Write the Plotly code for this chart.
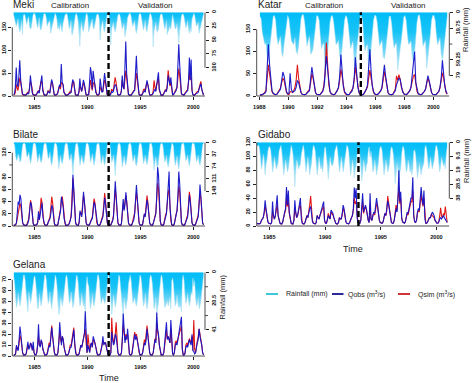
import plotly.graph_objects as go

# ------------------------------------------------------------------ data
# monthly values (peak daily values per month)
# ---- Meki (Jan 1983 - Dec 2000)
meki_start = (1983, 1)
meki_rain = [
    4, 10, 18, 25, 20, 12, 28, 35, 30, 15, 40, 6,
    3, 6, 15, 22, 12, 8, 25, 30, 28, 10, 5, 2,
    2, 8, 20, 28, 22, 10, 30, 32, 25, 8, 4, 2,
    3, 10, 25, 20, 18, 15, 38, 30, 22, 12, 4, 2,
    5, 12, 30, 25, 32, 20, 28, 35, 20, 10, 6, 3,
    2, 6, 18, 30, 25, 15, 41, 38, 28, 12, 5, 2,
    6, 15, 35, 61, 30, 18, 30, 35, 25, 10, 4, 2,
    8, 35, 30, 25, 18, 12, 28, 30, 22, 10, 5, 3,
    4, 12, 50, 28, 22, 15, 32, 35, 25, 8, 4, 2,
    5, 20, 59, 30, 25, 18, 30, 35, 28, 12, 6, 3,
    3, 10, 22, 30, 25, 20, 44, 38, 28, 10, 5, 2,
    2, 6, 18, 25, 20, 15, 30, 38, 30, 12, 4, 2,
    3, 12, 28, 32, 25, 14, 30, 35, 25, 10, 4, 2,
    6, 15, 62, 35, 28, 18, 32, 36, 30, 12, 5, 3,
    3, 10, 22, 30, 25, 15, 40, 35, 28, 25, 30, 8,
    4, 12, 25, 30, 28, 20, 38, 56, 35, 15, 6, 3,
    3, 8, 22, 28, 24, 15, 30, 38, 28, 35, 12, 4,
    2, 5, 18, 25, 22, 18, 38, 30, 26, 15, 6, 3,
]
meki_qobs = [
    3, 5, 20, 62, 25, 20, 45, 78, 35, 12, 5, 3,
    2, 2, 2, 4, 6, 5, 15, 45, 25, 8, 3, 2,
    2, 2, 3, 8, 10, 6, 18, 38, 45, 12, 4, 2,
    2, 2, 4, 10, 8, 6, 20, 36, 30, 10, 3, 2,
    2, 3, 6, 15, 25, 20, 70, 30, 25, 8, 3, 2,
    2, 2, 3, 5, 6, 8, 25, 36, 30, 10, 3, 2,
    2, 2, 10, 38, 20, 10, 20, 35, 28, 8, 3, 2,
    2, 3, 30, 63, 50, 15, 55, 30, 25, 8, 3, 2,
    3, 5, 38, 12, 8, 10, 25, 50, 35, 10, 3, 2,
    2, 2, 4, 10, 8, 10, 20, 25, 22, 8, 3, 2,
    2, 3, 10, 45, 20, 15, 60, 119, 50, 15, 4, 2,
    2, 2, 4, 8, 10, 12, 40, 88, 45, 12, 4, 2,
    2, 2, 5, 10, 12, 8, 20, 34, 25, 8, 3, 2,
    2, 3, 6, 12, 15, 10, 25, 40, 52, 15, 4, 2,
    2, 2, 5, 10, 12, 10, 20, 45, 30, 25, 41, 8,
    3, 3, 6, 10, 12, 20, 60, 113, 70, 20, 5, 3,
    2, 2, 5, 8, 10, 12, 30, 84, 35, 80, 12, 3,
    2, 2, 4, 6, 8, 8, 15, 20, 27, 15, 4, 2,
]
meki_qsim = [
    2, 3, 8, 25, 18, 12, 25, 40, 30, 12, 4, 2,
    2, 2, 3, 6, 8, 6, 15, 30, 28, 10, 3, 2,
    2, 2, 4, 10, 12, 8, 18, 32, 30, 12, 4, 2,
    2, 2, 5, 12, 10, 8, 22, 30, 28, 10, 3, 2,
    2, 3, 8, 18, 22, 15, 30, 28, 25, 8, 3, 2,
    2, 2, 4, 8, 10, 8, 20, 30, 32, 10, 3, 2,
    2, 2, 8, 22, 18, 10, 18, 28, 25, 8, 3, 2,
    2, 3, 15, 35, 25, 12, 25, 30, 25, 8, 3, 2,
    2, 4, 20, 15, 10, 10, 22, 35, 28, 10, 3, 2,
    2, 2, 6, 15, 12, 12, 28, 41, 30, 10, 3, 2,
    2, 3, 12, 35, 22, 15, 35, 55, 40, 12, 4, 2,
    2, 2, 5, 10, 12, 12, 30, 50, 35, 12, 4, 2,
    2, 2, 6, 14, 15, 10, 22, 30, 25, 8, 3, 2,
    2, 3, 10, 34, 20, 12, 25, 35, 38, 12, 4, 2,
    2, 2, 6, 12, 14, 10, 25, 56, 35, 22, 30, 8,
    3, 3, 8, 14, 15, 18, 40, 60, 45, 18, 5, 3,
    2, 2, 6, 10, 12, 12, 28, 50, 35, 40, 12, 3,
    2, 2, 5, 8, 10, 10, 20, 25, 32, 15, 4, 2,
]

# ---- Katar (Jan 1988 - Dec 2000)
katar_start = (1988, 1)
katar_rain = [
    5, 8, 25, 35, 40, 38, 55, 60, 45, 30, 12, 5,
    4, 10, 30, 40, 35, 30, 50, 55, 40, 28, 10, 4,
    8, 25, 35, 38, 40, 32, 48, 52, 42, 25, 8, 3,
    3, 12, 28, 42, 35, 30, 52, 50, 45, 30, 10, 4,
    5, 10, 30, 45, 40, 38, 88, 60, 50, 28, 12, 5,
    4, 12, 32, 40, 38, 35, 55, 58, 45, 25, 10, 4,
    6, 15, 30, 45, 40, 36, 60, 75, 48, 30, 12, 5,
    5, 10, 35, 48, 42, 40, 70, 60, 45, 28, 10, 4,
    4, 12, 30, 42, 38, 35, 55, 58, 48, 30, 12, 5,
    5, 14, 32, 44, 40, 38, 72, 55, 46, 35, 15, 6,
    4, 10, 28, 40, 38, 36, 55, 62, 50, 30, 12, 4,
    3, 12, 30, 42, 38, 35, 70, 58, 45, 28, 10, 4,
    4, 10, 28, 40, 36, 32, 52, 60, 48, 30, 12, 5,
]
katar_qobs = [
    2, 2, 3, 5, 6, 10, 60, 116, 70, 30, 12, 6,
    4, 3, 4, 8, 10, 15, 35, 54, 45, 20, 10, 5,
    5, 51, 15, 8, 10, 12, 20, 35, 30, 15, 8, 4,
    3, 3, 4, 6, 8, 12, 40, 65, 45, 20, 8, 4,
    3, 3, 4, 6, 10, 20, 50, 90, 60, 25, 10, 5,
    4, 3, 4, 8, 12, 20, 45, 93, 55, 22, 10, 5,
    3, 3, 4, 8, 10, 18, 40, 87, 50, 20, 8, 4,
    3, 3, 5, 10, 15, 25, 60, 105, 55, 22, 10, 5,
    4, 3, 5, 8, 12, 20, 40, 70, 45, 20, 8, 4,
    3, 3, 4, 8, 12, 25, 35, 40, 38, 20, 10, 5,
    4, 3, 5, 8, 12, 20, 45, 70, 100, 30, 12, 5,
    4, 3, 4, 6, 10, 15, 30, 46, 35, 18, 8, 4,
    3, 3, 4, 6, 10, 20, 40, 80, 50, 22, 10, 5,
]
katar_qsim = [
    2, 2, 3, 5, 8, 12, 40, 70, 50, 25, 10, 5,
    3, 3, 4, 10, 12, 18, 30, 40, 35, 18, 8, 4,
    3, 10, 8, 8, 12, 20, 35, 70, 40, 18, 8, 4,
    3, 3, 4, 8, 10, 15, 30, 50, 40, 18, 8, 4,
    3, 3, 4, 8, 12, 25, 55, 120, 60, 25, 10, 5,
    4, 3, 4, 8, 12, 18, 35, 60, 45, 20, 8, 4,
    3, 3, 4, 8, 12, 18, 35, 65, 45, 20, 8, 4,
    3, 3, 5, 10, 15, 20, 40, 58, 40, 18, 8, 4,
    3, 3, 5, 8, 12, 18, 35, 55, 40, 18, 8, 4,
    3, 3, 4, 10, 15, 45, 35, 48, 38, 20, 10, 5,
    4, 3, 5, 8, 12, 20, 35, 45, 48, 25, 10, 5,
    3, 3, 4, 6, 10, 15, 28, 40, 32, 16, 8, 4,
    3, 3, 4, 6, 10, 18, 35, 52, 40, 20, 8, 4,
]

# ---- Bilate (Jan 1983 - Dec 2000)
bilate_start = (1983, 1)
bilate_rain = [
    3, 8, 40, 55, 50, 35, 45, 60, 55, 30, 8, 3,
    2, 6, 30, 45, 40, 30, 50, 65, 50, 25, 6, 2,
    3, 10, 45, 60, 50, 35, 55, 62, 52, 28, 8, 3,
    2, 8, 35, 50, 45, 30, 60, 70, 55, 25, 6, 2,
    4, 12, 55, 80, 60, 40, 60, 65, 50, 25, 8, 3,
    2, 8, 40, 55, 50, 35, 60, 99, 60, 30, 8, 3,
    3, 15, 60, 70, 55, 40, 55, 65, 55, 25, 6, 2,
    4, 12, 45, 60, 50, 35, 55, 70, 55, 28, 8, 3,
    3, 10, 50, 65, 55, 40, 60, 70, 55, 25, 6, 2,
    2, 8, 45, 60, 52, 38, 65, 100, 60, 30, 8, 3,
    3, 12, 55, 75, 60, 42, 60, 70, 55, 28, 8, 3,
    2, 10, 40, 58, 50, 38, 65, 72, 58, 30, 8, 2,
    3, 12, 50, 65, 55, 40, 58, 68, 55, 28, 6, 2,
    4, 15, 60, 85, 60, 45, 70, 80, 60, 30, 8, 3,
    3, 10, 45, 60, 55, 40, 65, 75, 60, 40, 15, 4,
    4, 12, 50, 70, 58, 42, 68, 82, 60, 30, 8, 3,
    2, 8, 40, 55, 50, 38, 60, 72, 55, 28, 6, 2,
    3, 10, 45, 60, 52, 40, 62, 70, 56, 30, 8, 3,
]
bilate_qobs = [
    1, 1, 2, 5, 20, 40, 35, 51, 45, 20, 6, 2,
    1, 1, 1, 2, 5, 10, 25, 39, 35, 15, 4, 1,
    1, 1, 2, 5, 24, 10, 20, 35, 38, 15, 5, 2,
    1, 1, 2, 6, 10, 12, 20, 34, 30, 12, 4, 1,
    1, 1, 3, 10, 20, 25, 48, 40, 30, 12, 4, 1,
    1, 1, 2, 4, 8, 15, 35, 84, 60, 20, 6, 2,
    1, 1, 5, 25, 20, 15, 30, 56, 40, 15, 5, 2,
    1, 1, 3, 8, 10, 12, 25, 39, 35, 20, 6, 2,
    1, 1, 3, 8, 10, 15, 30, 46, 35, 15, 5, 2,
    1, 1, 2, 5, 8, 15, 40, 73, 50, 18, 5, 2,
    1, 1, 4, 20, 44, 25, 35, 55, 40, 15, 5, 2,
    1, 1, 3, 8, 10, 20, 40, 67, 45, 18, 5, 2,
    1, 1, 3, 10, 20, 15, 30, 43, 35, 15, 5, 2,
    1, 1, 4, 10, 15, 20, 50, 96, 84, 30, 8, 2,
    1, 1, 3, 10, 15, 20, 40, 60, 89, 30, 8, 2,
    1, 1, 4, 12, 18, 25, 50, 89, 70, 25, 6, 2,
    1, 1, 3, 8, 12, 15, 30, 51, 40, 15, 5, 2,
    1, 1, 3, 8, 12, 15, 35, 68, 50, 18, 5, 2,
]
bilate_qsim = [
    1, 1, 2, 5, 15, 25, 30, 37, 32, 15, 5, 2,
    1, 1, 1, 3, 8, 12, 28, 42, 35, 15, 4, 1,
    1, 1, 2, 6, 15, 12, 25, 46, 38, 15, 5, 2,
    1, 1, 2, 8, 12, 15, 30, 48, 38, 15, 4, 1,
    1, 1, 3, 12, 22, 28, 45, 48, 35, 14, 4, 1,
    1, 1, 2, 6, 10, 18, 45, 78, 55, 20, 6, 2,
    1, 1, 5, 20, 22, 18, 35, 50, 40, 15, 5, 2,
    1, 1, 3, 8, 12, 15, 30, 45, 38, 18, 6, 2,
    1, 1, 3, 10, 12, 18, 35, 54, 40, 15, 5, 2,
    1, 1, 2, 6, 10, 18, 40, 60, 45, 18, 5, 2,
    1, 1, 4, 18, 35, 28, 38, 50, 40, 15, 5, 2,
    1, 1, 3, 10, 12, 22, 40, 55, 42, 18, 5, 2,
    1, 1, 3, 12, 20, 18, 35, 50, 38, 15, 5, 2,
    1, 1, 4, 12, 18, 22, 45, 70, 60, 25, 8, 2,
    1, 1, 3, 12, 18, 22, 40, 55, 60, 25, 8, 2,
    1, 1, 4, 14, 20, 25, 45, 65, 55, 22, 6, 2,
    1, 1, 3, 10, 15, 18, 35, 56, 45, 15, 5, 2,
    1, 1, 3, 10, 15, 18, 38, 54, 45, 18, 5, 2,
]

# ---- Gidabo (Nov 1983 - Dec 2000)
gidabo_start = (1983, 11)
gidabo_rain = [
    3, 2,
    2, 4, 10, 18, 15, 8, 12, 22, 15, 12, 6, 3,
    3, 5, 12, 20, 16, 10, 14, 18, 16, 14, 6, 3,
    2, 6, 14, 22, 18, 12, 15, 20, 18, 12, 5, 2,
    4, 8, 18, 30, 20, 12, 14, 18, 16, 15, 8, 3,
    2, 5, 12, 20, 16, 10, 15, 22, 18, 14, 6, 2,
    3, 6, 14, 22, 18, 10, 14, 18, 16, 20, 12, 4,
    3, 8, 16, 25, 18, 10, 14, 16, 15, 12, 6, 3,
    2, 5, 12, 20, 16, 10, 14, 20, 16, 12, 5, 2,
    3, 6, 14, 22, 18, 12, 16, 24, 18, 16, 8, 3,
    4, 8, 16, 26, 22, 12, 15, 20, 16, 14, 6, 3,
    10, 6, 12, 20, 18, 12, 16, 22, 18, 14, 6, 3,
    3, 6, 14, 22, 18, 12, 15, 20, 18, 14, 6, 3,
    4, 8, 16, 28, 22, 14, 18, 26, 20, 18, 8, 3,
    3, 6, 14, 20, 18, 12, 15, 20, 18, 22, 18, 6,
    5, 8, 16, 24, 20, 14, 18, 22, 18, 16, 14, 4,
    2, 5, 12, 18, 16, 10, 14, 18, 15, 12, 6, 2,
    3, 6, 14, 20, 16, 10, 13, 16, 14, 18, 8, 3,
]
gidabo_qobs = [
    4, 3,
    3, 3, 4, 8, 10, 12, 20, 37, 25, 12, 6, 4,
    3, 3, 5, 35, 15, 10, 15, 30, 44, 15, 6, 4,
    3, 3, 6, 15, 20, 25, 56, 30, 51, 20, 8, 4,
    3, 3, 8, 37, 20, 12, 15, 25, 30, 40, 10, 4,
    3, 3, 5, 12, 15, 12, 20, 25, 28, 15, 6, 4,
    3, 3, 5, 15, 12, 10, 15, 20, 25, 28, 35, 8,
    4, 4, 8, 15, 12, 10, 23, 20, 18, 12, 6, 4,
    3, 3, 5, 12, 10, 10, 18, 30, 25, 12, 6, 4,
    3, 3, 5, 10, 12, 15, 25, 55, 40, 54, 12, 5,
    4, 4, 8, 25, 47, 20, 25, 30, 25, 15, 8, 5,
    47, 10, 8, 15, 20, 18, 30, 40, 30, 15, 8, 5,
    4, 4, 6, 15, 18, 15, 25, 36, 30, 20, 8, 5,
    4, 4, 8, 20, 25, 20, 40, 80, 35, 49, 12, 6,
    5, 4, 6, 15, 20, 18, 25, 35, 40, 40, 70, 15,
    6, 5, 8, 20, 25, 22, 35, 56, 40, 30, 51, 10,
    4, 4, 6, 10, 12, 12, 15, 20, 18, 15, 8, 5,
    4, 4, 6, 10, 12, 10, 12, 15, 12, 10, 8, 5,
]
gidabo_qsim = [
    3, 3,
    3, 3, 4, 8, 10, 12, 18, 28, 22, 12, 6, 4,
    3, 3, 5, 20, 15, 10, 15, 25, 30, 15, 6, 4,
    3, 3, 6, 15, 18, 22, 40, 28, 35, 18, 8, 4,
    3, 3, 8, 25, 18, 12, 15, 22, 28, 30, 10, 4,
    3, 3, 5, 12, 15, 12, 20, 30, 43, 20, 8, 4,
    3, 3, 5, 15, 12, 10, 15, 20, 22, 25, 28, 8,
    4, 4, 8, 18, 14, 10, 20, 18, 16, 12, 6, 4,
    3, 3, 5, 12, 10, 10, 16, 25, 22, 12, 6, 4,
    3, 3, 5, 10, 12, 15, 22, 40, 32, 35, 12, 5,
    4, 4, 8, 22, 35, 18, 22, 28, 24, 15, 8, 5,
    30, 10, 8, 15, 18, 16, 25, 32, 28, 15, 8, 5,
    4, 4, 6, 15, 18, 15, 22, 43, 32, 20, 8, 5,
    4, 4, 8, 22, 30, 22, 35, 55, 32, 40, 12, 6,
    5, 4, 6, 15, 18, 16, 22, 30, 35, 35, 50, 15,
    6, 5, 8, 18, 22, 20, 30, 45, 35, 28, 40, 10,
    4, 4, 6, 10, 12, 12, 17, 15, 14, 12, 8, 5,
    4, 4, 6, 15, 26, 14, 12, 18, 15, 28, 10, 5,
]

# ---- Gelana (Jan 1983 - Dec 2000)
gelana_start = (1983, 1)
gelana_rain = [
    3, 8, 18, 25, 22, 15, 20, 24, 20, 12, 5, 2,
    2, 6, 15, 22, 28, 14, 18, 22, 18, 10, 8, 3,
    3, 8, 18, 26, 25, 15, 20, 24, 20, 12, 5, 2,
    2, 6, 16, 22, 20, 14, 22, 26, 20, 12, 5, 2,
    4, 10, 22, 30, 28, 18, 20, 24, 20, 14, 6, 3,
    2, 6, 15, 22, 20, 14, 20, 25, 22, 14, 5, 2,
    3, 8, 18, 24, 22, 15, 20, 24, 22, 28, 10, 3,
    8, 10, 20, 26, 22, 15, 22, 24, 20, 12, 5, 2,
    2, 6, 16, 22, 20, 18, 20, 22, 20, 12, 5, 2,
    3, 8, 20, 30, 24, 16, 20, 25, 22, 14, 6, 2,
    3, 10, 22, 28, 32, 18, 22, 26, 22, 18, 8, 3,
    2, 6, 16, 22, 20, 18, 22, 24, 20, 12, 5, 2,
    3, 8, 18, 24, 22, 15, 22, 26, 22, 12, 5, 2,
    3, 8, 20, 26, 24, 18, 30, 26, 22, 14, 6, 2,
    3, 8, 18, 25, 24, 22, 20, 24, 20, 18, 26, 6,
    4, 8, 18, 24, 22, 16, 22, 25, 24, 24, 28, 5,
    2, 6, 16, 22, 20, 15, 20, 24, 20, 14, 16, 4,
    10, 6, 18, 24, 22, 18, 26, 24, 20, 14, 5, 2,
]
gelana_qobs = [
    1, 1, 2, 10, 6, 5, 15, 27, 20, 8, 3, 1,
    1, 1, 2, 6, 13, 6, 8, 12, 10, 5, 13, 3,
    1, 1, 3, 10, 29, 10, 8, 15, 12, 6, 3, 1,
    1, 1, 2, 8, 10, 8, 15, 26, 18, 8, 3, 1,
    1, 1, 3, 12, 31, 15, 10, 18, 15, 8, 3, 1,
    1, 1, 2, 6, 8, 8, 12, 18, 24, 10, 3, 1,
    1, 1, 2, 8, 10, 8, 12, 15, 20, 41, 12, 3,
    10, 5, 3, 10, 12, 8, 18, 15, 12, 8, 3, 1,
    1, 1, 2, 6, 10, 18, 10, 12, 12, 8, 3, 1,
    1, 1, 3, 22, 15, 10, 12, 20, 18, 10, 3, 1,
    1, 1, 3, 15, 39, 20, 12, 18, 15, 25, 8, 2,
    1, 1, 2, 8, 12, 20, 15, 18, 14, 8, 3, 1,
    1, 1, 3, 10, 12, 10, 15, 25, 18, 8, 3, 1,
    1, 1, 3, 10, 15, 12, 40, 25, 20, 10, 3, 1,
    1, 1, 3, 12, 15, 31, 15, 18, 15, 12, 33, 8,
    2, 1, 3, 10, 12, 10, 15, 20, 25, 30, 36, 6,
    1, 1, 2, 8, 10, 8, 12, 15, 12, 10, 20, 5,
    4, 2, 3, 10, 12, 15, 25, 18, 15, 10, 3, 1,
]
gelana_qsim = [
    1, 1, 2, 8, 8, 6, 12, 19, 16, 8, 3, 1,
    1, 1, 2, 6, 10, 8, 8, 12, 10, 6, 8, 3,
    1, 1, 3, 10, 18, 10, 10, 14, 12, 6, 3, 1,
    1, 1, 3, 10, 12, 10, 18, 28, 18, 8, 3, 1,
    1, 1, 3, 12, 22, 15, 12, 18, 15, 8, 3, 1,
    1, 1, 2, 8, 10, 10, 15, 20, 26, 10, 3, 1,
    1, 1, 2, 8, 10, 8, 12, 15, 18, 25, 12, 3,
    20, 8, 4, 10, 12, 8, 15, 14, 12, 8, 3, 1,
    1, 1, 2, 8, 10, 14, 12, 12, 12, 8, 3, 1,
    1, 1, 3, 35, 18, 12, 15, 20, 31, 10, 3, 1,
    1, 1, 3, 18, 28, 22, 15, 20, 18, 20, 8, 2,
    1, 1, 3, 10, 14, 22, 18, 20, 15, 8, 3, 1,
    1, 1, 3, 12, 15, 12, 18, 28, 20, 8, 3, 1,
    1, 1, 3, 12, 16, 14, 30, 22, 18, 10, 3, 1,
    1, 1, 3, 14, 16, 24, 16, 18, 15, 12, 25, 8,
    2, 1, 3, 12, 14, 12, 16, 20, 22, 24, 28, 6,
    1, 1, 3, 10, 12, 10, 14, 16, 14, 12, 18, 5,
    33, 6, 3, 12, 14, 18, 25, 20, 16, 10, 3, 1,
]

# calibration / validation split (year)
meki_split, katar_split, bilate_split, gidabo_split, gelana_split = 1992, 1995, 1992, 1993, 1992

# axis ticks (labelled) and unlabelled tick marks
year_ticks_5 = [1985, 1990, 1995, 2000]
year_ticks_2 = [1988, 1990, 1992, 1994, 1996, 1998, 2000]
meki_q_ticks = [0, 50, 100, 150]
meki_r_ticks = [0, 25, 50, 75, 100]
katar_q_ticks = [0, 50, 100, 150]
katar_r_ticks = [0, 19.75, 59.25, 79]
katar_r_marks = [39.5]
bilate_q_ticks = [0, 20, 40, 60, 80, 120]
bilate_q_marks = [100]
bilate_r_ticks = [0, 37, 74, 111, 148]
gidabo_q_ticks = [0, 20, 40, 60, 80, 100, 120]
gidabo_r_ticks = [0, 9.5, 19, 28.5, 38]
gelana_q_ticks = [0, 10, 20, 30, 40, 50, 60, 70]
gelana_r_ticks = [0, 20.5, 41]
gelana_r_marks = [10.25, 30.75]

# ------------------------------------------------------------------ layout helpers
W, H = 474, 383
FONT = "Liberation Sans, Arial, sans-serif"
C_OBS, C_SIM = "#1414C8", "#E01818"


def month_x(start, n):
    y0, m0 = start
    return [y0 + (m0 - 1 + i + 0.5) / 12.0 for i in range(n)]


def xd(a, b):
    return [a / W, b / W]


def yd(top, bot):
    return [1 - bot / H, 1 - top / H]


def tl(vals):
    return [("%g" % v) for v in vals]


panels = [
    dict(title="Meki", start=meki_start, rain=meki_rain, qobs=meki_qobs, qsim=meki_qsim, split=meki_split,
         px=(12.3, 205), py=(12.3, 96), xr=[1982.92, 2001.1], xt=year_ticks_5,
         qr=[0, 183], qt=meki_q_ticks, qm=[], rr=[151, 0], rt=meki_r_ticks, rm=[], grad=(10, 45)),
    dict(title="Katar", start=katar_start, rain=katar_rain, qobs=katar_qobs, qsim=katar_qsim, split=katar_split,
         px=(256.7, 449.3), py=(12.3, 96), xr=[1987.82, 2001.1], xt=year_ticks_2,
         qr=[0, 188], qt=katar_q_ticks, qm=[], rr=[104, 0], rt=katar_r_ticks, rm=katar_r_marks, grad=(25, 70)),
    dict(title="Bilate", start=bilate_start, rain=bilate_rain, qobs=bilate_qobs, qsim=bilate_qsim, split=bilate_split,
         px=(12.3, 205), py=(142.3, 226), xr=[1982.9, 2001.1], xt=year_ticks_5,
         qr=[0, 137], qt=bilate_q_ticks, qm=bilate_q_marks, rr=[254, 0], rt=bilate_r_ticks, rm=[], grad=(35, 90)),
    dict(title="Gidabo", start=gidabo_start, rain=gidabo_rain, qobs=gidabo_qobs, qsim=gidabo_qsim, split=gidabo_split,
         px=(256.7, 449.3), py=(142.3, 226), xr=[1983.87, 2001.15], xt=year_ticks_5,
         qr=[0, 120], qt=gidabo_q_ticks, qm=[], rr=[56.6, 0], rt=gidabo_r_ticks, rm=[], grad=(8, 24)),
    dict(title="Gelana", start=gelana_start, rain=gelana_rain, qobs=gelana_qobs, qsim=gelana_qsim, split=gelana_split,
         px=(12.3, 205), py=(272.3, 356), xr=[1982.9, 2001.1], xt=year_ticks_5,
         qr=[0, 76.8], qt=gelana_q_ticks, qm=[], rr=[59.5, 0], rt=gelana_r_ticks, rm=gelana_r_marks, grad=(11, 28)),
]

fig = go.Figure()
layout = dict(width=W, height=H, margin=dict(l=0, r=0, t=0, b=0, autoexpand=False),
              paper_bgcolor="white", plot_bgcolor="white", showlegend=False,
              font=dict(family=FONT, color="#222"))
shapes, annotations = [], []
tickfont = dict(family=FONT, size=5.6, color="#111", weight="bold")
AX = "#222"

for i, p in enumerate(panels, start=1):
    xn = "x" if i == 1 else "x%d" % i
    ri = 2 * i - 1
    qi = 2 * i
    rn = "y" if ri == 1 else "y%d" % ri
    qn = "y%d" % qi
    xkey = "xaxis" if i == 1 else "xaxis%d" % i
    rkey = "yaxis" if ri == 1 else "yaxis%d" % ri
    qkey = "yaxis%d" % qi
    pw = p["px"][1] - p["px"][0]

    xs_r = month_x(p["start"], len(p["rain"]))
    xs_o = month_x(p["start"], len(p["qobs"]))
    xs_s = month_x(p["start"], len(p["qsim"]))

    g0, g1 = p["grad"]
    fig.add_trace(go.Scatter(
        x=xs_r, y=p["rain"], xaxis=xn, yaxis=rn, mode="lines", fill="tozeroy",
        line=dict(color="#9CDDF3", width=0.5),
        fillgradient=dict(type="vertical", start=0, stop=g1,
                          colorscale=[[0, "#00BCF8"], [g0 / g1, "#18C3F6"], [1, "#C2E9F7"]]),
        hoverinfo="skip"))
    fig.add_trace(go.Scatter(x=xs_s, y=p["qsim"], xaxis=xn, yaxis=qn, mode="lines",
                             line=dict(color=C_SIM, width=1.1), hoverinfo="skip"))
    fig.add_trace(go.Scatter(x=xs_o, y=p["qobs"], xaxis=xn, yaxis=qn, mode="lines",
                             line=dict(color=C_OBS, width=1.1), opacity=0.95, hoverinfo="skip"))

    common = dict(ticks="outside", ticklen=3, tickwidth=0.8, tickcolor=AX, tickfont=tickfont,
                  showgrid=False, zeroline=False, showline=False, automargin=False, tickmode="array")
    layout[xkey] = dict(domain=xd(*p["px"]), range=p["xr"], anchor=rn,
                        tickvals=p["xt"], ticktext=tl(p["xt"]), ticklabelstandoff=2, **common)
    layout[rkey] = dict(domain=yd(*p["py"]), range=p["rr"], anchor=xn, side="right",
                        tickvals=p["rt"], ticktext=tl(p["rt"]), tickangle=-90, **common)
    layout[qkey] = dict(overlaying=rn, anchor=xn, side="left", range=p["qr"],
                        tickvals=p["qt"], ticktext=tl(p["qt"]), tickangle=-90, **common)

    # axis lines (R style: spanning the ticks)
    q_all = sorted(p["qt"] + p["qm"])
    r_all = sorted(p["rt"] + p["rm"])
    shapes.append(dict(type="line", xref=xn + " domain", yref=qn, x0=0, x1=0,
                       y0=q_all[0], y1=q_all[-1], line=dict(color=AX, width=0.8)))
    shapes.append(dict(type="line", xref=xn + " domain", yref=rn, x0=1, x1=1,
                       y0=r_all[0], y1=r_all[-1], line=dict(color=AX, width=0.8)))
    shapes.append(dict(type="line", xref=xn, yref=rn + " domain", x0=p["xr"][0], x1=p["xr"][1],
                       y0=0, y1=0, line=dict(color=AX, width=0.8)))
    # unlabelled tick marks
    for v in p["qm"]:
        shapes.append(dict(type="line", xref=xn + " domain", yref=qn, x0=0, x1=-3.0 / pw,
                           y0=v, y1=v, line=dict(color=AX, width=0.8)))
    for v in p["rm"]:
        shapes.append(dict(type="line", xref=xn + " domain", yref=rn, x0=1, x1=1 + 3.0 / pw,
                           y0=v, y1=v, line=dict(color=AX, width=0.8)))
    # calibration / validation split
    shapes.append(dict(type="line", xref=xn, yref=rn + " domain", x0=p["split"], x1=p["split"],
                       y0=0, y1=1, line=dict(color="black", width=2.4, dash="6px,3px")))

    annotations.append(dict(text=p["title"], xref="paper", yref="paper",
                            x=(p["px"][0] - 1) / W, y=1 - (p["py"][0] - 7.5) / H,
                            xanchor="left", yanchor="middle", showarrow=False,
                            font=dict(family=FONT, size=10, color="#222")))


def ann(text, x, y, size=8, angle=0, xanchor="center"):
    annotations.append(dict(text=text, xref="paper", yref="paper", x=x / W, y=1 - y / H,
                            xanchor=xanchor, yanchor="middle", showarrow=False, textangle=angle,
                            font=dict(family=FONT, size=size, color="#222")))


ann("Calibration", 70, 5.2)
ann("Validation", 155.5, 5.2)
ann("Calibration", 323.5, 5.2)
ann("Validation", 408.3, 5.2)
ann("Time", 353, 248.5, size=9)
ann("Time", 109, 377.5, size=9)
ann("Rainfall (mm)", 466, 30, size=7.5, angle=-90)
ann("Rainfall (mm)", 466, 161, size=7.5, angle=-90)
ann("Rainfall (mm)", 221.5, 297, size=7.5, angle=-90)

# legend (drawn manually)
leg_y = 294
for (x0, x1, col) in [(266, 278, "#3CC6D8"), (332, 343.5, "#2A2A9C"), (398, 410, "#D03434")]:
    shapes.append(dict(type="line", xref="paper", yref="paper", x0=x0 / W, x1=x1 / W,
                       y0=1 - leg_y / H, y1=1 - leg_y / H, line=dict(color=col, width=2)))
ann("Rainfall (mm)", 284, leg_y, size=7, xanchor="left")
ann("Qobs (m<sup>3</sup>/s)", 346, leg_y, size=7, xanchor="left")
ann("Qsim (m<sup>3</sup>/s)", 416, leg_y, size=7, xanchor="left")

layout["shapes"] = shapes
layout["annotations"] = annotations
fig.update_layout(**layout)
fig.write_html("out.html", config={"displayModeBar": False},
               post_script="document.body.style.margin='0';document.body.style.overflow='hidden';")
